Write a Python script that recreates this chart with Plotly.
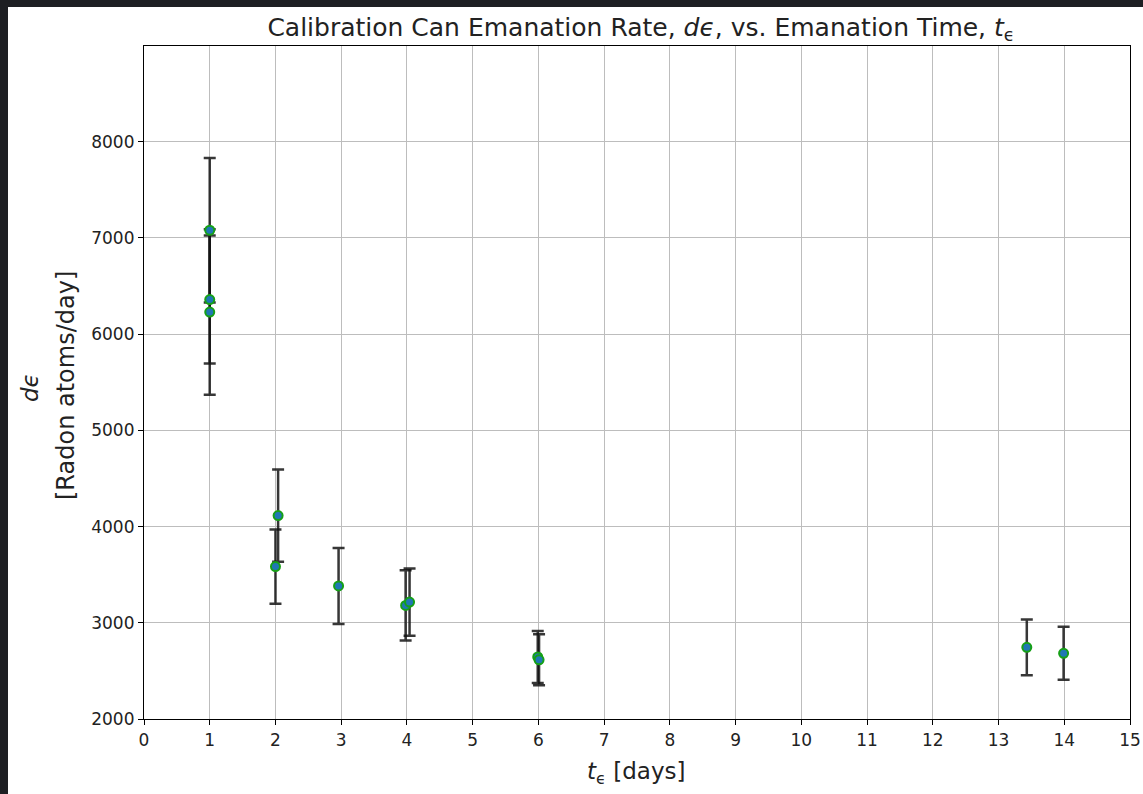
import plotly.graph_objects as go

# Data
t_days = [1.00, 1.00, 1.00, 2.04, 2.00, 2.96, 3.98, 4.04, 5.99, 6.01, 13.43, 13.99]
rate = [7080, 6360, 6230, 4114, 3584, 3383, 3180, 3215, 2645, 2615, 2745, 2683]
rate_err = [750, 665, 860, 480, 385, 395, 365, 350, 270, 265, 290, 275]

x_ticks = list(range(0, 16))
y_ticks = [2000, 3000, 4000, 5000, 6000, 7000, 8000]

FONT = "DejaVu Sans"

fig = go.Figure()
fig.add_trace(go.Scatter(
    x=t_days, y=rate, mode="markers",
    marker=dict(symbol="circle", size=9, color="#1f77b4",
                line=dict(color="#16a016", width=2)),
    error_y=dict(type="data", array=rate_err, visible=True,
                 color="rgba(20,20,20,0.85)", thickness=2.5, width=6),
    showlegend=False,
))

W, H = 1143, 794
L, R, T, B = 144, 13, 46, 75
pw, ph = W - L - R, H - T - B

def px_x(p):
    return (p - L) / pw

def px_y(p):
    return (H - B - p) / ph

fig.add_shape(type="rect", xref="paper", yref="paper",
              x0=px_x(8), x1=px_x(W + 20), y0=px_y(H + 20), y1=px_y(7),
              fillcolor="white", line=dict(width=0), layer="below")

fig.add_annotation(text="<i>dϵ</i>", xref="paper", yref="paper",
                   x=px_x(30), y=px_y(388), textangle=-90, showarrow=False,
                   font=dict(family=FONT, size=23, color="#222"),
                   xanchor="center", yanchor="middle")
fig.add_annotation(text="[Radon atoms/day]", xref="paper", yref="paper",
                   x=px_x(66), y=px_y(386), textangle=-90, showarrow=False,
                   font=dict(family=FONT, size=24, color="#222"),
                   xanchor="center", yanchor="middle")
fig.add_annotation(text="<i>t</i><sub>ϵ</sub> [days]", xref="paper", yref="paper",
                   x=px_x(636), y=px_y(773), showarrow=False,
                   font=dict(family=FONT, size=23, color="#222"),
                   xanchor="center", yanchor="middle")

fig.update_layout(
    width=W, height=H,
    margin=dict(l=L, r=R, t=T, b=B, autoexpand=False),
    paper_bgcolor="#1e1f23",
    plot_bgcolor="white",
    title=dict(text="Calibration Can Emanation Rate, <i>dϵ</i>, vs. Emanation Time, <i>t</i><sub>ϵ</sub>",
               x=px_x(641), xref="paper", xanchor="center",
               y=1 - 27 / H, yref="container", yanchor="middle",
               font=dict(family=FONT, size=25, color="#222")),
    font=dict(family=FONT, size=17, color="#222"),
)
fig.update_xaxes(range=[0, 15], tickvals=x_ticks, ticks="outside", ticklen=5,
                 tickcolor="black", showline=True, linecolor="black", linewidth=1.2,
                 mirror=True, showgrid=True, gridcolor="#bdbdbd", gridwidth=1,
                 zeroline=False, automargin=False,
                 tickfont=dict(family=FONT, size=17, color="#222"))
fig.update_yaxes(range=[2000, 8995], tickvals=y_ticks, ticks="outside", ticklen=5,
                 tickcolor="black", showline=True, linecolor="black", linewidth=1.2,
                 mirror=True, showgrid=True, gridcolor="#bdbdbd", gridwidth=1,
                 zeroline=False, automargin=False,
                 tickfont=dict(family=FONT, size=17, color="#222"))

fig.write_html("out.html")
